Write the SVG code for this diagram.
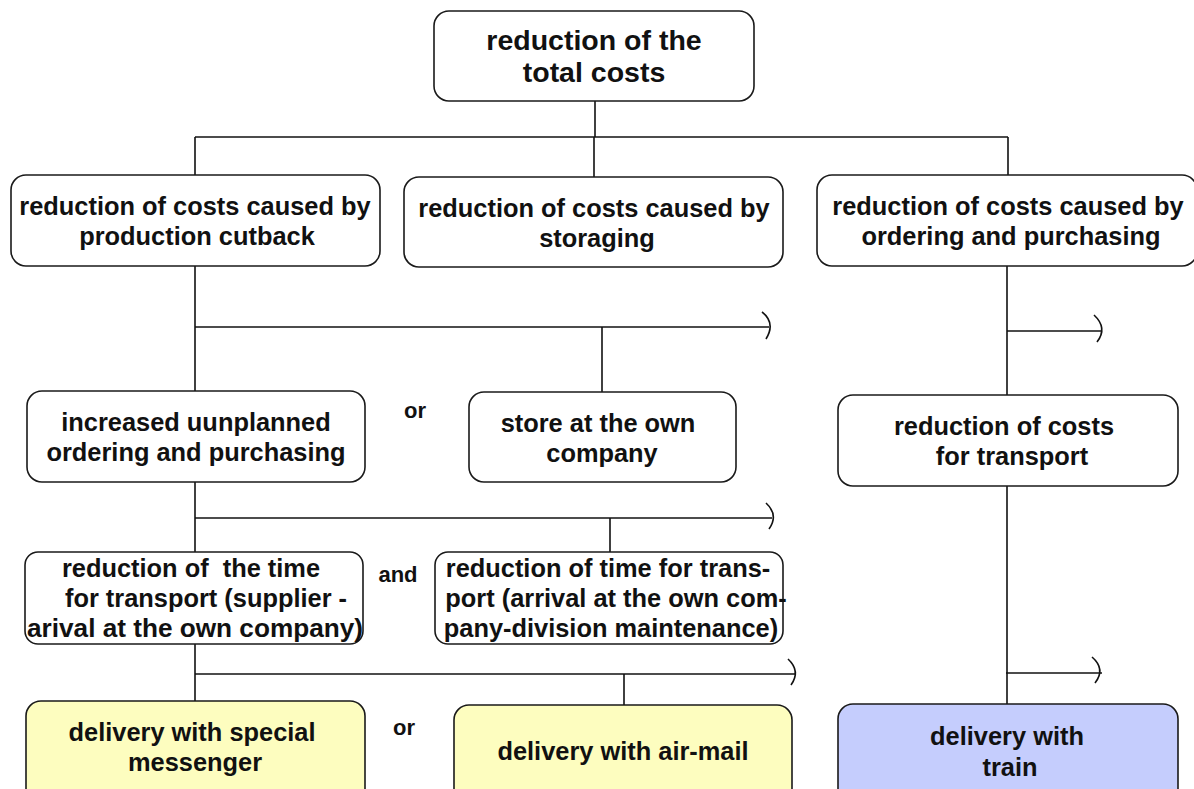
<svg xmlns="http://www.w3.org/2000/svg" width="1194" height="789" viewBox="0 0 1194 789">
  <style>
    .box { fill: #ffffff; stroke: #1a1a1a; stroke-width: 1.6; }
    .yellow { fill: #fdfdbf; }
    .blue { fill: #c5cdfd; }
    .lbl { font-family: "Liberation Sans", Arial, sans-serif; font-weight: bold; font-size: 25.4px; fill: #111; text-anchor: middle; }
    .big { font-size: 28.5px; }
    .free { font-family: "Liberation Sans", Arial, sans-serif; font-weight: bold; font-size: 22px; fill: #111; text-anchor: middle; }
    .wire { fill: none; stroke: #111; stroke-width: 1.6; }
  </style>

  <rect width="1194" height="789" fill="#ffffff"/>

  <!-- connectors -->
  <g id="connectors" class="wire">
    <path d="M595,101 V137"/>
    <path d="M195,137 H1008"/>
    <path d="M195,137 V175 M594,137 V177 M1008,137 V175"/>

    <path d="M195,266 V391"/>
    <path d="M195,327 H769"/>
    <path d="M762,312 Q776,323 766,339"/>
    <path d="M602,327 V392"/>

    <path d="M1007,266 V395"/>
    <path d="M1007,331 H1102"/>
    <path d="M1094,315 Q1108,328 1097,342"/>

    <path d="M1007,486 V704"/>
    <path d="M1006,673 H1102"/>
    <path d="M1092,657 Q1106,669 1095,683"/>

    <path d="M195,482 V552"/>
    <path d="M195,518 H772"/>
    <path d="M766,503 Q779,515 769,529"/>
    <path d="M610,518 V552"/>

    <path d="M195,644 V701"/>
    <path d="M195,674 H795"/>
    <path d="M788,659 Q801,671 791,685"/>
    <path d="M624,674 V705"/>
  </g>

  <g id="total">
    <rect class="box" x="434" y="11" width="320" height="90" rx="15"/>
    <text class="lbl big" x="594" y="50">reduction of the</text>
    <text class="lbl big" x="594" y="82">total costs</text>
  </g>

  <g id="production">
    <rect class="box" x="11" y="175" width="369" height="91" rx="15"/>
    <text class="lbl" x="195" y="215">reduction of costs caused by</text>
    <text class="lbl" x="197" y="245">production cutback</text>
  </g>

  <g id="storage">
    <rect class="box" x="404" y="177" width="379" height="90" rx="15"/>
    <text class="lbl" x="594" y="217">reduction of costs caused by</text>
    <text class="lbl" x="597" y="247">storaging</text>
  </g>

  <g id="ordering">
    <rect class="box" x="817" y="175" width="380" height="91" rx="15"/>
    <text class="lbl" x="1008" y="215">reduction of costs caused by</text>
    <text class="lbl" x="1011" y="245">ordering and purchasing</text>
  </g>

  <g id="unplanned">
    <rect class="box" x="27" y="391" width="338" height="91" rx="15"/>
    <text class="lbl" x="196" y="431">increased uunplanned</text>
    <text class="lbl" x="196" y="461">ordering and purchasing</text>
  </g>

  <text class="free" x="415" y="418">or</text>

  <g id="store">
    <rect class="box" x="469" y="392" width="267" height="90" rx="15"/>
    <text class="lbl" x="598" y="432">store at the own</text>
    <text class="lbl" x="602" y="462">company</text>
  </g>

  <g id="transport-costs">
    <rect class="box" x="838" y="395" width="340" height="91" rx="15"/>
    <text class="lbl" x="1004" y="435">reduction of costs</text>
    <text class="lbl" x="1012" y="465">for transport</text>
  </g>

  <g id="time-supplier">
    <rect class="box" x="25" y="552" width="338" height="92" rx="13"/>
    <text class="lbl" x="191" y="577" xml:space="preserve">reduction of  the time</text>
    <text class="lbl" x="206" y="607">for transport (supplier -</text>
    <text class="lbl" x="195" y="637" textLength="336" lengthAdjust="spacingAndGlyphs">arival at the own company)</text>
  </g>

  <text class="free" x="398" y="582">and</text>

  <g id="time-division">
    <rect class="box" x="435" y="552" width="348" height="92" rx="13"/>
    <text class="lbl" x="608" y="577">reduction of time for trans-</text>
    <text class="lbl" x="616" y="607">port (arrival at the own com-</text>
    <text class="lbl" x="611" y="637">pany-division maintenance)</text>
  </g>

  <g id="messenger">
    <rect class="box yellow" x="26" y="701" width="339" height="110" rx="15"/>
    <text class="lbl" x="192" y="741">delivery with special</text>
    <text class="lbl" x="195" y="771">messenger</text>
  </g>

  <text class="free" x="404" y="735">or</text>

  <g id="airmail">
    <rect class="box yellow" x="454" y="705" width="338" height="110" rx="15"/>
    <text class="lbl" x="623" y="760">delivery with air-mail</text>
  </g>

  <g id="train">
    <rect class="box blue" x="838" y="704" width="340" height="110" rx="15"/>
    <text class="lbl" x="1007" y="745">delivery with</text>
    <text class="lbl" x="1010" y="776">train</text>
  </g>
</svg>
